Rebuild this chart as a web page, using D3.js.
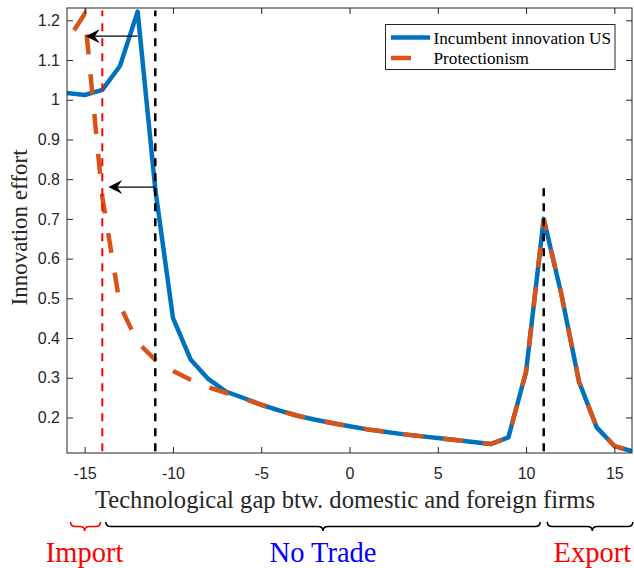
<!DOCTYPE html>
<html>
<head>
<meta charset="utf-8">
<script src="https://cdn.jsdelivr.net/npm/d3@7"></script>
<style>
  body { margin: 0; background: #fff; }
  svg text { font-family: "Liberation Serif", "Times New Roman", serif; }
  .tick text { font-family: "Liberation Sans", Arial, Helvetica, sans-serif; font-size: 16px; fill: #262626; }
</style>
</head>
<body>
<svg id="chart" width="634" height="568"></svg>
<script>
// technological gap (x) and the two series
const gap = [-16,-15,-14,-13,-12,-11,-10,-9,-8,-7,-6,-5,-4,-3,-2,-1,0,1,2,3,4,5,6,7,8,9,10,11,12,13,14,15,16];
const incumbent = [1.017,1.012,1.025,1.085,1.222,0.775,0.451,0.346,0.297,0.265,0.249,0.232,0.218,0.205,0.195,0.186,0.178,0.170,0.164,0.158,0.153,0.148,0.143,0.138,0.133,0.150,0.315,0.700,0.510,0.290,0.175,0.128,0.115];
const protGap = [-15.6,-15,-14,-13,-12,-11,-10,-9,-8,-7,-6,-5,-4,-3,-2,-1,0,1,2,3,4,5,6,7,8,9,10,11,12,13,14,15,16];
const protection = [1.175,1.216,0.755,0.482,0.389,0.345,0.317,0.295,0.276,0.262,0.248,0.232,0.218,0.205,0.195,0.186,0.178,0.170,0.164,0.158,0.153,0.148,0.143,0.138,0.133,0.150,0.315,0.700,0.510,0.290,0.175,0.128,0.115];

const xTicks = [-15,-10,-5,0,5,10,15];
const yTicks = [0.2,0.3,0.4,0.5,0.6,0.7,0.8,0.9,1.0,1.1,1.2];

// thresholds (vertical dashed lines): x and top value
const importCut = {x: -14, top: 1.225};
const tradeCuts = [{x: -11, top: 1.225}, {x: 11, top: 0.78}];

// shift arrows
const arrowFrom = [-12, -11];
const arrowTo = [-14.94, -13.66];
const arrowLevel = [1.16, 0.78];

// regions under the axis
const regionNames = ["Import", "No Trade", "Export"];
const regionFrom = [-15.8, -13.8, 11.2];
const regionTo = [-14.1, 10.8, 16.05];
const regionMid = [-15, -1.5, 13.75];

const blue = "#0072BD", orange = "#D95319";
const axisColor = "#262626";

const margin = {left: 67, top: 8, right: 2, bottom: 115};
const W = 634, H = 568;
const x = d3.scaleLinear().domain([-16, 16]).range([margin.left, W - margin.right]);
const y = d3.scaleLinear().domain([0.1105, 1.231]).range([H - margin.bottom, margin.top]);

const svg = d3.select("#chart");

svg.append("clipPath").attr("id", "clip")
  .append("rect")
    .attr("x", x(-16)).attr("y", y(1.231))
    .attr("width", x(16) - x(-16)).attr("height", y(0.1105) - y(1.231));

const plot = svg.append("g").attr("clip-path", "url(#clip)");

const line = d3.line().x(d => x(d[0])).y(d => y(d[1]));

plot.append("path")
    .attr("d", line(gap.map((g, i) => [g, incumbent[i]])))
    .attr("fill", "none")
    .attr("stroke", blue)
    .attr("stroke-width", 4.5)
    .attr("stroke-linejoin", "round");

plot.append("path")
    .attr("d", line(protGap.map((g, i) => [g, protection[i]])))
    .attr("fill", "none")
    .attr("stroke", orange)
    .attr("stroke-width", 4.5)
    .attr("stroke-dasharray", "20,20");

// vertical dashed lines
plot.append("line")
    .attr("x1", x(importCut.x)).attr("x2", x(importCut.x))
    .attr("y1", y(0.115)).attr("y2", y(importCut.top))
    .attr("stroke", "#ff0000").attr("stroke-width", 2)
    .attr("stroke-dasharray", "8,7");

plot.selectAll(".cut")
  .data(tradeCuts)
  .enter()
  .append("line")
    .attr("x1", d => x(d.x)).attr("x2", d => x(d.x))
    .attr("y1", y(0.115)).attr("y2", d => y(d.top))
    .attr("stroke", "#000").attr("stroke-width", 2.5)
    .attr("stroke-dasharray", "8,7");

// arrows
arrowFrom.forEach((x0, i) => {
  const yy = y(arrowLevel[i]), tip = x(arrowTo[i]);
  svg.append("line")
      .attr("x1", x(x0)).attr("x2", tip + 8)
      .attr("y1", yy).attr("y2", yy)
      .attr("stroke", "#000").attr("stroke-width", 1.2);
  svg.append("path")
      .attr("d", `M${tip},${yy}L${tip + 14},${yy - 7}L${tip + 9},${yy}L${tip + 14},${yy + 7}Z`)
      .attr("fill", "#000");
});

// axes: ticks pointing inward on all four sides
const fmtY = d => String(+d.toFixed(1));
const axB = svg.append("g")
    .attr("transform", `translate(0,${y.range()[0]})`)
    .call(d3.axisBottom(x).tickValues(xTicks).tickFormat(d => String(d)).tickSize(-6).tickPadding(15));
const axL = svg.append("g")
    .attr("transform", `translate(${x.range()[0]},0)`)
    .call(d3.axisLeft(y).tickValues(yTicks).tickFormat(fmtY).tickSize(-6).tickPadding(7));
const axT = svg.append("g")
    .attr("transform", `translate(0,${y.range()[1]})`)
    .call(d3.axisTop(x).tickValues(xTicks).tickFormat("").tickSize(-6));
const axR = svg.append("g")
    .attr("transform", `translate(${x.range()[1]},0)`)
    .call(d3.axisRight(y).tickValues(yTicks).tickFormat("").tickSize(-6));

[axB, axL, axT, axR].forEach(g => {
  g.select(".domain").remove();
  g.selectAll(".tick line").attr("stroke", axisColor);
});

svg.append("rect")
    .attr("x", x(-16)).attr("y", y(1.231))
    .attr("width", x(16) - x(-16)).attr("height", y(0.1105) - y(1.231))
    .attr("fill", "none").attr("stroke", axisColor).attr("stroke-width", 1);

// axis titles
svg.append("text")
    .attr("x", 345).attr("y", 508)
    .attr("text-anchor", "middle")
    .attr("font-size", 24.6)
    .attr("fill", axisColor)
    .text("Technological gap btw. domestic and foreign firms");

svg.append("text")
    .attr("transform", "translate(27,227.5) rotate(-90)")
    .attr("text-anchor", "middle")
    .attr("font-size", 23)
    .attr("fill", axisColor)
    .text("Innovation effort");

// legend
const lg = svg.append("g");
lg.append("rect")
    .attr("x", 385.5).attr("y", 24.5).attr("width", 229.5).attr("height", 45)
    .attr("fill", "#fff").attr("stroke", axisColor).attr("stroke-width", 1);
const legendItems = ["Incumbent innovation US", "Protectionism"];
legendItems.forEach((name, i) => {
  const ly = 37.5 + i * 20.5;
  lg.append("line")
      .attr("x1", 391).attr("x2", 430).attr("y1", ly).attr("y2", ly)
      .attr("stroke", i === 0 ? blue : orange)
      .attr("stroke-width", 4.5)
      .attr("stroke-dasharray", i === 0 ? null : "20,20");
  lg.append("text")
      .attr("x", 433.5).attr("y", ly + 6)
      .attr("font-size", 17.2)
      .attr("fill", "#000")
      .text(name);
});

// braces + region labels
function brace(x1, x2, xm, y0, h) {
  const r = 5, ym = y0 + h / 2;
  return `M${x1},${y0}Q${x1},${ym} ${x1 + r},${ym}L${xm - r},${ym}Q${xm},${ym} ${xm},${y0 + h}` +
         `Q${xm},${ym} ${xm + r},${ym}L${x2 - r},${ym}Q${x2},${ym} ${x2},${y0}`;
}
const braceColors = ["#ff0000", "#000", "#000"];
const labelColors = ["#ff0000", "#0000ff", "#ff0000"];
regionNames.forEach((name, i) => {
  svg.append("path")
      .attr("d", brace(x(regionFrom[i]), x(regionTo[i]), x(regionMid[i]), 522, 9))
      .attr("fill", "none")
      .attr("stroke", braceColors[i])
      .attr("stroke-width", 1.6);
  svg.append("text")
      .attr("x", x(regionMid[i])).attr("y", 561.5)
      .attr("text-anchor", "middle")
      .attr("font-size", 28.5)
      .attr("fill", labelColors[i])
      .text(name);
});
</script>
</body>
</html>
